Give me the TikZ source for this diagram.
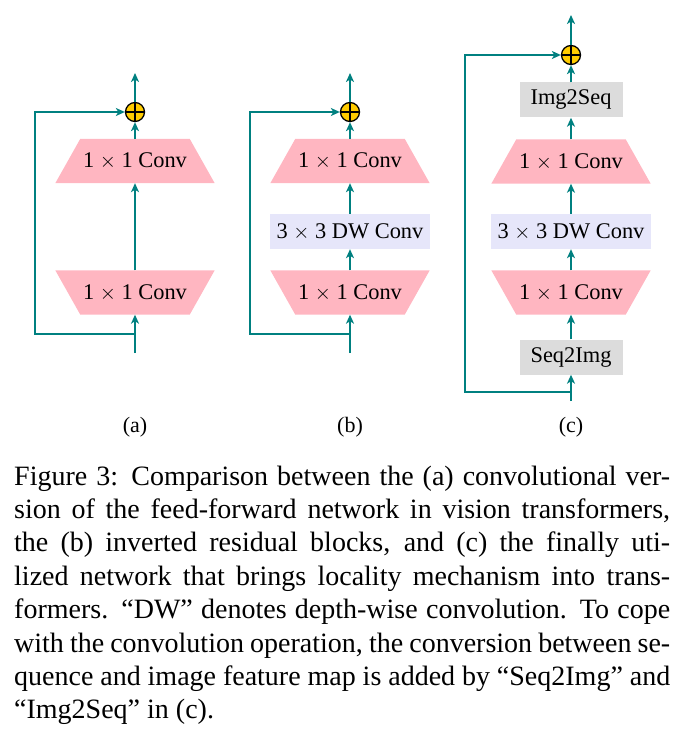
\documentclass[tikz,border=0pt]{standalone}
\usepackage{fontspec}
\newfontfamily\capfont{Liberation Serif}
\usetikzlibrary{arrows.meta,backgrounds}
\definecolor{tealc}{RGB}{0,128,128}
\definecolor{pinkc}{RGB}{255,182,193}
\definecolor{lavc}{RGB}{230,230,250}
\definecolor{grayc}{RGB}{220,220,220}
\definecolor{goldc}{RGB}{255,204,0}
\newcommand{\trapwide}[1]{% wide at bottom
  \fill[pinkc] (#1.south west) -- (#1.south east) -- ([xshift=-25pt]#1.north east) -- ([xshift=25pt]#1.north west) -- cycle;}
\newcommand{\trapnarrow}[1]{% wide at top
  \fill[pinkc] (#1.north west) -- (#1.north east) -- ([xshift=-25pt]#1.south east) -- ([xshift=25pt]#1.south west) -- cycle;}
\begin{document}
\begin{tikzpicture}[x=1pt,y=-1pt,
  conn/.style={draw=tealc, line width=2.6pt, -{Stealth[length=9pt,width=8pt,inset=2.5pt]}},
  lbl/.style={font=\capfont\fontsize{22.4}{26}\selectfont, inner sep=0pt},
  trapbox/.style={lbl, rectangle, minimum width=159pt, minimum height=44pt},
  dwbox/.style={lbl, rectangle, fill=lavc, minimum width=160pt, minimum height=35pt},
  graybox/.style={lbl, rectangle, fill=grayc, minimum width=103pt, minimum height=35pt},
  addc/.style={circle, draw=black, line width=1.3pt, fill=goldc, minimum size=19pt, inner sep=0pt,
    path picture={\draw[black, line width=1.3pt]
      (path picture bounding box.north) -- (path picture bounding box.south)
      (path picture bounding box.west) -- (path picture bounding box.east);}},
  sublab/.style={font=\capfont\fontsize{22}{26}\selectfont, inner sep=0pt, anchor=base},
]
\useasboundingbox (0,0) rectangle (685,733);

% ---------- (a)
\node[trapbox] (la1) at (135,292.5) {1 $\times$ 1 Conv};
\node[trapbox] (la2) at (135,161) {1 $\times$ 1 Conv};
\node[addc]    (adda) at (135,112) {};
\coordinate (ina)  at (135,353);
\coordinate (bra)  at (135,334);
\coordinate (lfa)  at (35,334);
\coordinate (outa) at (135,73);
\draw[conn] (ina) -- (la1.south);
\draw[conn] (la1.north) -- (la2.south);
\draw[conn] (la2.north) -- (adda);
\draw[conn] (adda) -- (outa);
\draw[conn] (bra) -- (lfa) |- (adda);
\node[sublab] (capa) at (135,432) {(a)};

% ---------- (b)
\node[trapbox] (lb1) at (350,292.5) {1 $\times$ 1 Conv};
\node[dwbox]   (lb2) at (350,231.5) {3 $\times$ 3 DW Conv};
\node[trapbox] (lb3) at (350,161) {1 $\times$ 1 Conv};
\node[addc]    (addb) at (350,112) {};
\coordinate (inb)  at (350,353);
\coordinate (brb)  at (350,334);
\coordinate (lfb)  at (250,334);
\coordinate (outb) at (350,73);
\draw[conn] (inb) -- (lb1.south);
\draw[conn] (lb1.north) -- (lb2);
\draw[conn] (lb2) -- (lb3.south);
\draw[conn] (lb3.north) -- (addb);
\draw[conn] (addb) -- (outb);
\draw[conn] (brb) -- (lfb) |- (addb);
\node[sublab] (capb) at (350,432) {(b)};

% ---------- (c)
\node[graybox] (lc0) at (571,357) {Seq2Img};
\node[trapbox] (lc1) at (571,292.5) {1 $\times$ 1 Conv};
\node[dwbox]   (lc2) at (571,231.5) {3 $\times$ 3 DW Conv};
\node[trapbox] (lc3) at (571,161.5) {1 $\times$ 1 Conv};
\node[graybox] (lc4) at (571,100) {Img2Seq};
\node[addc]    (addc) at (571,55) {};
\coordinate (inc)  at (571,401);
\coordinate (brc)  at (571,392);
\coordinate (lfc)  at (465,392);
\coordinate (outc) at (571,15);
\draw[conn] (inc) -- (lc0);
\draw[conn] (lc0) -- (lc1.south);
\draw[conn] (lc1.north) -- (lc2);
\draw[conn] (lc2) -- (lc3.south);
\draw[conn] (lc3.north) -- (lc4);
\draw[conn] (lc4) -- (addc);
\draw[conn] (addc) -- (outc);
\draw[conn] (brc) -- (lfc) |- (addc);
\node[sublab] (capc) at (571,432) {(c)};

\begin{scope}[on background layer]
  \trapnarrow{la1} \trapwide{la2}
  \trapnarrow{lb1} \trapwide{lb3}
  \trapnarrow{lc1} \trapwide{lc3}
\end{scope}

% ---------- caption
\node[anchor=north west, text width=656pt, align=justify, inner sep=0pt,
  font=\capfont\fontsize{28}{33.4}\selectfont] (caption) at (14,465.5)
{\tolerance=9999 Figure 3: Comparison between the (a) convolutional ver-\linebreak
sion of the feed-forward network in vision transformers,\linebreak
the (b) inverted residual blocks, and (c) the finally uti-\linebreak
lized network that brings locality mechanism into trans-\linebreak
formers. “DW” denotes depth-wise convolution. To cope\linebreak
with the convolution operation, the conversion between se-\linebreak
quence and image feature map is added by “Seq2Img” and\linebreak
“Img2Seq” in (c).};
\end{tikzpicture}
\end{document}
